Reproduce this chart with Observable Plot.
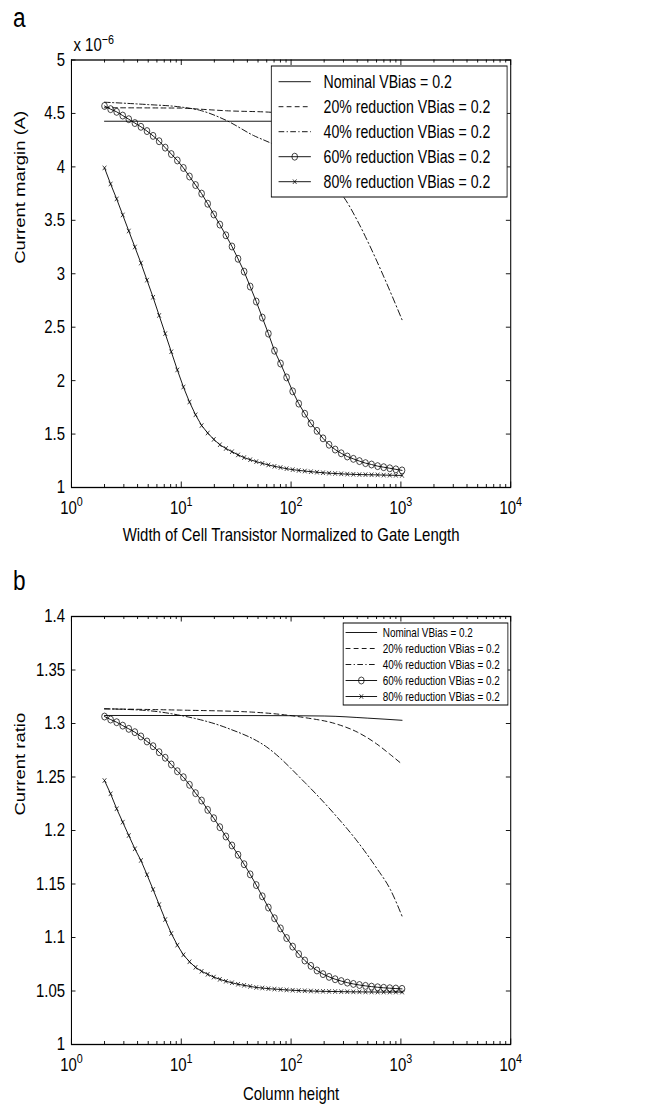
<!DOCTYPE html>
<html><head><meta charset="utf-8">
<script src="https://cdn.jsdelivr.net/npm/d3@7"></script>
<script src="https://cdn.jsdelivr.net/npm/@observablehq/plot@0.6"></script>
<style>
html,body{margin:0;background:#fff;overflow:hidden;}
#wrap{position:relative;width:650px;height:1108px;overflow:hidden;}
.panel{position:absolute;left:0;width:650px;}
</style></head><body>
<div id="wrap"><div id="pa" class="panel" style="top:0"></div><div id="pb" class="panel" style="top:560px"></div></div>
<script>
// shared x values of the marker series (width / column height)
const xs = [2, 2.272, 2.580, 2.930, 3.327, 3.779, 4.292, 4.874, 5.536, 6.287, 7.141, 8.110, 9.210, 10.46, 11.88, 13.49, 15.32, 17.40, 19.77, 22.45, 25.49, 28.95, 32.88, 37.35, 42.42, 48.17, 54.71, 62.13, 70.57, 80.14, 91.02, 103.4, 117.4, 133.3, 151.4, 172.0, 195.3, 221.8, 251.9, 286.1, 325.0, 369.0, 419.1, 476.0, 540.6, 614.0, 697.3, 792.0, 899.4, 1024];
const seriesLabels = ["Nominal VBias = 0.2", "20% reduction VBias = 0.2", "40% reduction VBias = 0.2", "60% reduction VBias = 0.2", "80% reduction VBias = 0.2"];
const xTickValues = [1, 10, 100, 1000, 10000];

// Panel a: current margin (units of 1e-6 A)
const aNomX = [2, 1024];
const aNomY = [4.427, 4.427];
const a20X = [2, 9.9, 14.7, 25.8, 67.4, 150, 300, 600, 1024];
const a20Y = [4.553, 4.55, 4.54, 4.525, 4.51, 4.47, 4.40, 4.28, 4.15];
const a40X = [2, 4.75, 9.9, 14.7, 25.8, 45.4, 67.4, 100, 150, 200, 300, 400, 500, 700, 1024];
const a40Y = [4.605, 4.584, 4.56, 4.53, 4.434, 4.294, 4.216, 4.12, 4.00, 3.89, 3.72, 3.50, 3.30, 2.97, 2.57];
const a60Y = [4.57, 4.54, 4.515, 4.48, 4.446, 4.41, 4.375, 4.335, 4.29, 4.24, 4.18, 4.12, 4.06, 3.99, 3.91, 3.83, 3.75, 3.655, 3.555, 3.46, 3.36, 3.255, 3.14, 3.02, 2.88, 2.74, 2.59, 2.44, 2.28, 2.16, 2.03, 1.90, 1.785, 1.69, 1.60, 1.53, 1.46, 1.40, 1.355, 1.32, 1.29, 1.268, 1.247, 1.228, 1.215, 1.20, 1.19, 1.18, 1.17, 1.16];
const a80Y = [3.99, 3.84, 3.70, 3.55, 3.40, 3.25, 3.10, 2.94, 2.78, 2.61, 2.44, 2.27, 2.10, 1.94, 1.80, 1.68, 1.58, 1.51, 1.45, 1.40, 1.365, 1.335, 1.305, 1.28, 1.26, 1.242, 1.226, 1.211, 1.198, 1.187, 1.176, 1.167, 1.16, 1.154, 1.148, 1.143, 1.138, 1.134, 1.131, 1.128, 1.125, 1.123, 1.121, 1.12, 1.119, 1.118, 1.116, 1.115, 1.114, 1.113];
const aYTicks = [1, 1.5, 2, 2.5, 3, 3.5, 4, 4.5, 5];

// Panel b: current ratio
const bNomX = [2, 50, 200, 500, 1024];
const bNomY = [1.3075, 1.3074, 1.307, 1.305, 1.303];
const b20X = [2, 10, 45, 133, 250, 400, 600, 800, 1024];
const b20Y = [1.3137, 1.3125, 1.3106, 1.3055, 1.30, 1.292, 1.281, 1.271, 1.262];
const b40X = [2, 5, 9.9, 25.8, 60, 133, 250, 400, 600, 800, 1024];
const b40Y = [1.3137, 1.312, 1.3075, 1.296, 1.278, 1.245, 1.215, 1.19, 1.165, 1.145, 1.12];
const b60Y = [1.3065, 1.3037, 1.3012, 1.298, 1.295, 1.2919, 1.2879, 1.2832, 1.2788, 1.2732, 1.268, 1.2617, 1.2554, 1.2498, 1.2427, 1.2349, 1.228, 1.2193, 1.2115, 1.2031, 1.1944, 1.186, 1.1773, 1.1685, 1.159, 1.149, 1.1385, 1.128, 1.118, 1.1085, 1.0995, 1.0915, 1.0845, 1.0785, 1.0735, 1.0692, 1.0658, 1.0632, 1.061, 1.0593, 1.0578, 1.0566, 1.0556, 1.0548, 1.0541, 1.0535, 1.053, 1.0526, 1.0523, 1.052];
const b80Y = [1.2467, 1.2343, 1.2203, 1.2078, 1.1953, 1.1829, 1.172, 1.1587, 1.1449, 1.1308, 1.1168, 1.1038, 1.0929, 1.0838, 1.0773, 1.0721, 1.0684, 1.0656, 1.063, 1.0609, 1.0591, 1.0577, 1.0563, 1.0553, 1.0543, 1.0533, 1.0528, 1.0522, 1.0518, 1.0514, 1.051, 1.0507, 1.0504, 1.0502, 1.05, 1.0498, 1.0497, 1.0496, 1.0495, 1.0494, 1.0493, 1.0492, 1.0492, 1.0491, 1.0491, 1.049, 1.049, 1.049, 1.049, 1.049];
const bYTicks = [1, 1.05, 1.1, 1.15, 1.2, 1.25, 1.3, 1.35, 1.4];

const FONT = "'Liberation Sans', Arial, Helvetica, sans-serif";
const NS = "http://www.w3.org/2000/svg";
const zip = (X, Y) => X.map((x, i) => ({x, y: Y[i]}));
const DASH = "6,4", DASHDOT = "7,3,1.5,3";
const W0 = 805;          // drawing width, squeezed horizontally into the 650 px page like the reference
const PAGE_W = 650;

function panel(cfg) {
  const W = W0, H = cfg.height;
  const plotW = W - cfg.ml - cfg.mr, plotH = H - cfg.mt - cfg.mb;
  const minor = d3.scaleLog().domain([1, 1e4]).ticks().filter(v => !xTickValues.includes(v));
  const ink = {stroke: "black", strokeWidth: 1};
  const svg = Plot.plot({
    width: W, height: H,
    marginLeft: cfg.ml, marginRight: cfg.mr, marginTop: cfg.mt, marginBottom: cfg.mb,
    style: {fontFamily: FONT, fontSize: "18.5px", color: "black", background: "white", overflow: "visible"},
    x: {type: "log", domain: [1, 1e4], label: null},
    y: {domain: cfg.yDomain, label: null},
    marks: [
      Plot.line(zip(cfg.nomX, cfg.nomY), {x: "x", y: "y", ...ink, curve: "monotone-x"}),
      Plot.line(zip(cfg.d20X, cfg.d20Y), {x: "x", y: "y", ...ink, strokeDasharray: DASH, curve: "monotone-x"}),
      Plot.line(zip(cfg.d40X, cfg.d40Y), {x: "x", y: "y", ...ink, strokeDasharray: DASHDOT, curve: "monotone-x"}),
      Plot.line(zip(xs, cfg.d60Y), {x: "x", y: "y", ...ink}),
      Plot.dot(zip(xs, cfg.d60Y), {x: "x", y: "y", r: 3.5, stroke: "black", fill: "none", strokeWidth: 0.8}),
      Plot.line(zip(xs, cfg.d80Y), {x: "x", y: "y", ...ink}),
      Plot.dot(zip(xs, cfg.d80Y), {x: "x", y: "y", symbol: "times", r: 2.2, stroke: "black", fill: "none", strokeWidth: 0.8}),
      // inward ticks (bottom/top, left/right)
      Plot.tickX(xTickValues, {x: d => d, ...ink, insetTop: plotH - 5.5}),
      Plot.tickX(xTickValues, {x: d => d, ...ink, insetBottom: plotH - 5.5}),
      Plot.tickX(minor, {x: d => d, ...ink, insetTop: plotH - 3}),
      Plot.tickX(minor, {x: d => d, ...ink, insetBottom: plotH - 3}),
      Plot.tickY(cfg.yTicks, {y: d => d, ...ink, insetRight: plotW - 5.5}),
      Plot.tickY(cfg.yTicks, {y: d => d, ...ink, insetLeft: plotW - 5.5}),
      Plot.frame({stroke: "black", strokeWidth: 1.3}),
      Plot.axisX({ticks: xTickValues, tickSize: 0, tickPadding: 13, fontSize: 18.5, label: null,
        tickFormat: d => "10^" + Math.round(Math.log10(d))}),
      Plot.axisY({ticks: cfg.yTicks, tickSize: 0, tickPadding: 8, fontSize: 18.5, label: null,
        tickFormat: d => String(+d.toFixed(2))}),
      Plot.text([cfg.xLabel], {text: d => d, frameAnchor: "bottom", dy: cfg.xLabelDy, fontSize: 18.5}),
      Plot.text([cfg.yLabel], {text: d => d, frameAnchor: "left", dx: -64, dy: cfg.yLabelDy, rotate: -90, fontSize: 18.5})
    ]
  });
  const s = d3.select(svg);
  // superscript exponents on the x tick labels
  s.selectAll("text").each(function() {
    const t = this.textContent, m = /^10\^(-?\d+)$/.exec(t);
    if (m) {
      this.textContent = "10";
      const ts = document.createElementNS(NS, "tspan");
      ts.setAttribute("dy", "-0.55em"); ts.setAttribute("font-size", "0.72em");
      ts.textContent = m[1];
      this.appendChild(ts);
    }
  });
  // panel tag
  s.append("text").attr("x", 16).attr("y", cfg.tagY).attr("text-anchor", "start")
    .attr("font-size", 28).attr("font-family", FONT).text(cfg.tag);
  // exponent multiplier
  if (cfg.multiplier) {
    const t = s.append("text").attr("x", cfg.ml + 3).attr("y", cfg.mt - 8).attr("text-anchor", "start")
      .attr("font-size", 18.5).attr("font-family", FONT).text("x 10");
    t.append("tspan").attr("dy", "-0.55em").attr("font-size", "0.72em").text(cfg.multiplier);
  }
  // legend
  const L = cfg.legend;
  const g = s.append("g").attr("font-family", FONT).attr("font-size", L.fs).attr("text-anchor", "start");
  g.append("rect").attr("x", L.x0).attr("y", L.y0).attr("width", L.w).attr("height", L.h)
    .attr("fill", "white").attr("stroke", "black").attr("stroke-width", 1);
  const styles = [{}, {dash: DASH}, {dash: DASHDOT}, {marker: "circle"}, {marker: "times"}];
  seriesLabels.forEach((lab, i) => {
    const cy = L.y0 + L.row0 + i * L.dy;
    const xa = L.x0 + L.l0, xb = L.x0 + L.l1, xm = (xa + xb) / 2;
    const ln = g.append("line").attr("x1", xa).attr("x2", xb).attr("y1", cy).attr("y2", cy)
      .attr("stroke", "black").attr("stroke-width", 1);
    if (styles[i].dash) ln.attr("stroke-dasharray", styles[i].dash);
    if (styles[i].marker === "circle")
      g.append("circle").attr("cx", xm).attr("cy", cy).attr("r", 3.5).attr("fill", "none").attr("stroke", "black").attr("stroke-width", 0.8);
    if (styles[i].marker === "times")
      g.append("path").attr("d", d3.symbol(d3.symbolTimes, 2.2 * 2.2 * Math.PI)()).attr("transform", `translate(${xm},${cy})`)
        .attr("fill", "none").attr("stroke", "black").attr("stroke-width", 0.8);
    g.append("text").attr("x", L.x0 + L.tx).attr("y", cy).attr("dy", "0.35em").text(lab);
  });
  // squeeze horizontally into the page width, as in the reference
  svg.setAttribute("viewBox", `0 0 ${W} ${H}`);
  svg.setAttribute("preserveAspectRatio", "none");
  svg.setAttribute("width", PAGE_W);
  svg.style.width = PAGE_W + "px";
  svg.style.maxWidth = "none";
  svg.style.height = H + "px";
  return svg;
}

document.getElementById("pa").appendChild(panel({
  height: 560, ml: 88, mr: W0 - 632, mt: 59.5, mb: 73, yDomain: [1, 5], yTicks: aYTicks,
  nomX: aNomX, nomY: aNomY, d20X: a20X, d20Y: a20Y, d40X: a40X, d40Y: a40Y, d60Y: a60Y, d80Y: a80Y,
  xLabel: "Width of Cell Transistor Normalized to Gate Length", yLabel: "Current margin (A)",
  xLabelDy: 53, yLabelDy: -10, tag: "a", tagY: 27, multiplier: "\u22126",
  legend: {x0: 336, y0: 66, w: 292, h: 131, row0: 15.7, dy: 25, l0: 9, l1: 49, tx: 64.7, fs: 17.5}
}));
document.getElementById("pb").appendChild(panel({
  height: 548, ml: 88, mr: W0 - 632, mt: 56, mb: 64, yDomain: [1, 1.4], yTicks: bYTicks,
  nomX: bNomX, nomY: bNomY, d20X: b20X, d20Y: b20Y, d40X: b40X, d40Y: b40Y, d60Y: b60Y, d80Y: b80Y,
  xLabel: "Column height", yLabel: "Current ratio",
  xLabelDy: 55, yLabelDy: -15, tag: "b", tagY: 30, multiplier: null,
  legend: {x0: 425, y0: 63, w: 204, h: 82, row0: 9.5, dy: 16, l0: 3, l1: 42, tx: 49, fs: 12.3}
}));
</script>
</body></html>
